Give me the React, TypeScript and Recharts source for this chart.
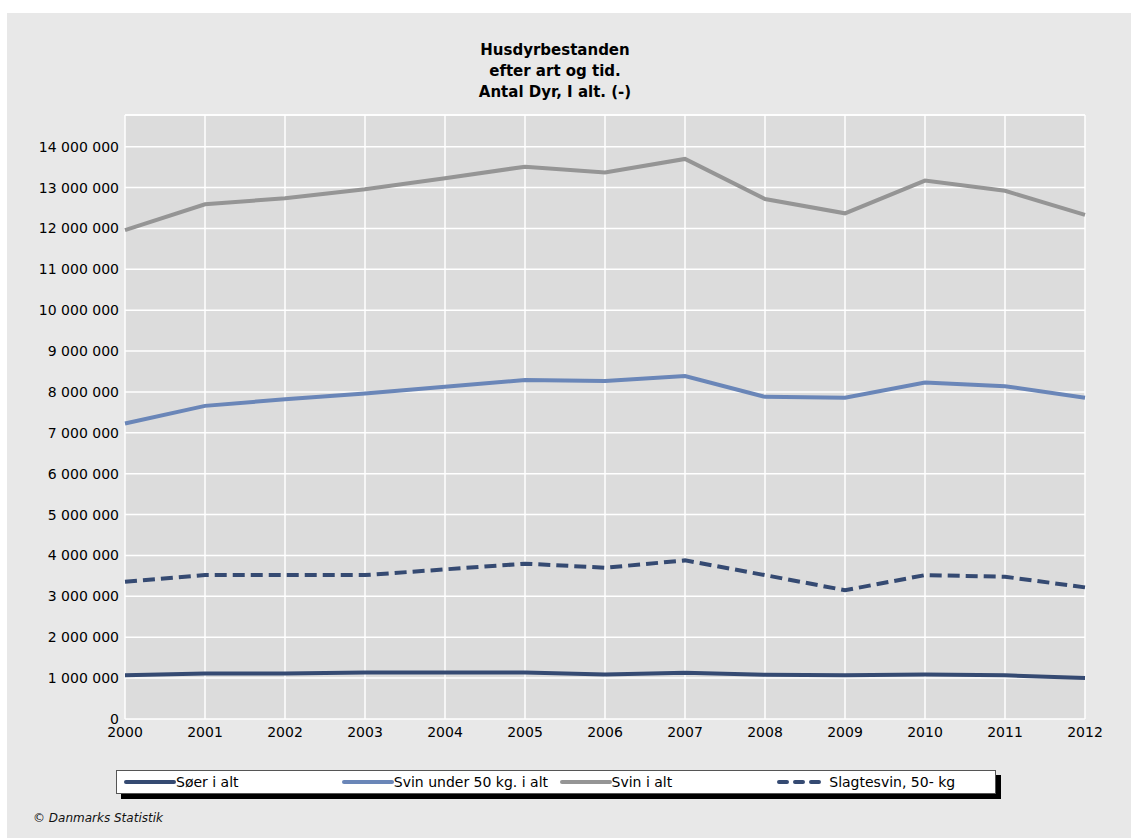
import React from "react";
import { LineChart, Line, XAxis, YAxis, CartesianGrid, ReferenceLine } from "recharts";

const years = ["2000", "2001", "2002", "2003", "2004", "2005", "2006", "2007", "2008", "2009", "2010", "2011", "2012"];
const soer = [1070000, 1110000, 1110000, 1135000, 1135000, 1135000, 1090000, 1130000, 1080000, 1070000, 1090000, 1070000, 1000000];
const svinUnder50 = [7230000, 7660000, 7820000, 7960000, 8130000, 8290000, 8270000, 8390000, 7880000, 7860000, 8230000, 8140000, 7860000];
const svinIAlt = [11960000, 12590000, 12740000, 12960000, 13230000, 13510000, 13370000, 13700000, 12720000, 12370000, 13170000, 12920000, 12330000];
const slagtesvin = [3360000, 3520000, 3520000, 3520000, 3660000, 3800000, 3700000, 3880000, 3520000, 3150000, 3520000, 3480000, 3220000];
const yTicks = [0, 1000000, 2000000, 3000000, 4000000, 5000000, 6000000, 7000000, 8000000, 9000000, 10000000, 11000000, 12000000, 13000000, 14000000];
const yMax = 14775000;

const titleLines = ["Husdyrbestanden", "efter art og tid.", "Antal Dyr, I alt. (-)"];

const SERIES = [
  { key: "soer", name: "Søer i alt", color: "#354a72", dash: undefined as string | undefined },
  { key: "svinUnder50", name: "Svin under 50 kg. i alt", color: "#6a86b8", dash: undefined },
  { key: "svinIAlt", name: "Svin i alt", color: "#959595", dash: undefined },
  { key: "slagtesvin", name: "Slagtesvin, 50- kg", color: "#354a72", dash: "12 6" },
];

const FONT = "'DejaVu Sans', sans-serif";

const chartData = years.map((year, i) => ({
  year,
  soer: soer[i],
  svinUnder50: svinUnder50[i],
  svinIAlt: svinIAlt[i],
  slagtesvin: slagtesvin[i],
}));

const fmt = (v: number) => String(v).replace(/\B(?=(\d{3})+(?!\d))/g, " ");

function LegendBox() {
  return (
    <div
      style={{
        position: "absolute", left: 116, top: 770, width: 871, height: 22,
        background: "#fff", border: "1px solid #555", boxShadow: "5px 5px 0 #000",
        display: "flex", alignItems: "center", paddingLeft: 7, boxSizing: "content-box",
        fontFamily: FONT, fontSize: 14, color: "#000",
      }}
    >
      {SERIES.map((s) => (
        <div key={s.key} style={{ width: 218, display: "flex", alignItems: "center" }}>
          <svg width={52} height={10} style={{ display: "block" }}>
            <line
              x1={2} y1={5} x2={50} y2={5}
              stroke={s.color} strokeWidth={4} strokeLinecap="round"
              strokeDasharray={s.dash ? "8 8" : undefined}
            />
          </svg>
          <span style={{ whiteSpace: "nowrap" }}>{s.name}</span>
        </div>
      ))}
    </div>
  );
}

export default function App() {
  return (
    <div style={{ position: "absolute", left: 0, top: 0, width: 1131, height: 839, background: "#fff" }}>
      <div style={{ position: "absolute", left: 7, top: 13, width: 1124, height: 825, background: "#e8e8e8" }} />
      <div
        style={{
          position: "absolute", left: 355, top: 40, width: 400, textAlign: "center",
          fontFamily: FONT, fontWeight: "bold", fontSize: 15, lineHeight: "21px", color: "#000",
        }}
      >
        {titleLines.map((t) => (
          <div key={t}>{t}</div>
        ))}
      </div>
      <div style={{ position: "absolute", left: 0, top: 0 }}>
        <LineChart width={1131} height={839} data={chartData} margin={{ top: 115, right: 46, bottom: 90, left: 0 }}>
          <CartesianGrid fill="#dcdcdc" stroke="#ffffff" strokeWidth={1.5} />
          <ReferenceLine y={yMax} stroke="#ffffff" strokeWidth={1.5} />
          <XAxis
            dataKey="year"
            axisLine={false}
            tickLine={false}
            interval={0}
            tick={{ fontSize: 14, fill: "#000", fontFamily: FONT }}
          />
          <YAxis
            width={125}
            domain={[0, yMax]}
            ticks={yTicks}
            axisLine={false}
            tickLine={false}
            tickSize={4}
            tickMargin={2}
            interval={0}
            tickFormatter={fmt}
            tick={{ fontSize: 14, fill: "#000", fontFamily: FONT }}
          />
          {SERIES.map((s) => (
            <Line
              key={s.key}
              type="linear"
              dataKey={s.key}
              name={s.name}
              stroke={s.color}
              strokeWidth={4}
              strokeDasharray={s.dash}
              dot={false}
              activeDot={false}
              isAnimationActive={false}
            />
          ))}
        </LineChart>
      </div>
      <LegendBox />
      <div
        style={{
          position: "absolute", left: 33, top: 811, fontFamily: FONT, fontStyle: "italic",
          fontSize: 12, color: "#111",
        }}
      >
        © Danmarks Statistik
      </div>
    </div>
  );
}
